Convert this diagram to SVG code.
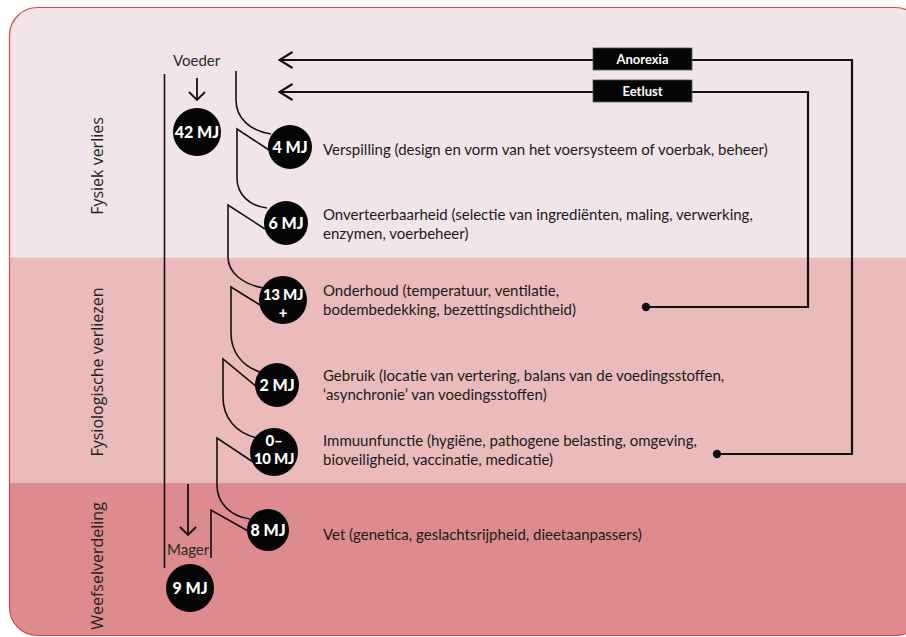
<svg xmlns="http://www.w3.org/2000/svg" width="906" height="637" viewBox="0 0 906 637">
<defs>
<clipPath id="panel"><rect x="9.5" y="7.5" width="914" height="628" rx="28"/></clipPath>
<marker id="chev" viewBox="0 0 16 18" refX="14.5" refY="9" markerWidth="16" markerHeight="18" markerUnits="userSpaceOnUse" orient="auto">
<path d="M1,1 L14,9 L1,17" fill="none" stroke="#111" stroke-width="2.2"/>
</marker>
</defs>
<style>
.side{font-family:"Open Sans","DejaVu Sans",sans-serif;font-size:16px;fill:#222;text-anchor:middle}
.body{font-family:Lato,"Liberation Sans",sans-serif;font-size:15px;fill:#1a1a1a}
.mj{font-family:Lato,"Liberation Sans",sans-serif;font-size:16px;font-weight:900;fill:#fff;text-anchor:middle}
.mjs{font-family:Lato,"Liberation Sans",sans-serif;font-size:15px;font-weight:900;fill:#fff;text-anchor:middle;letter-spacing:-0.3px}
.tag{font-family:Lato,"Liberation Sans",sans-serif;font-size:13px;font-weight:700;fill:#fff;text-anchor:middle}
.lbl{font-family:Lato,"Liberation Sans",sans-serif;font-size:15px;fill:#2a2a2a}
.ln{fill:none;stroke:#111;stroke-width:1.6}
.fb{fill:none;stroke:#111;stroke-width:2.2}
.arr{fill:none;stroke:#111;stroke-width:1.8}
</style>
<g id="background">
<g clip-path="url(#panel)">
<rect x="0" y="0" width="930" height="257" fill="#f2e5ea"/>
<rect x="0" y="257" width="930" height="226" fill="#ebbbbc"/>
<rect x="0" y="483" width="930" height="160" fill="#de8b8f"/>
</g>
<rect x="9.5" y="7.5" width="914" height="628" rx="28" fill="none" stroke="#d8424a" stroke-width="1.2"/>
<line x1="9.5" y1="257" x2="906" y2="257" stroke="#f7eef1" stroke-width="1"/>
</g>
<g id="side-labels">
<text class="side" transform="translate(103,166) rotate(-90)">Fysiek verlies</text>
<text class="side" transform="translate(103,372) rotate(-90)">Fysiologische verliezen</text>
<text class="side" transform="translate(103,566) rotate(-90)">Weefselverdeling</text>
</g>
<g id="connectors">
<line class="ln" x1="164.5" y1="74" x2="164.5" y2="568"/>
<path class="ln" d="M236,71 V100 C236,118 250,131 271,134"/>
<path class="ln" d="M269,150 L237,129 V178 C237,195 250,206 267,208"/>
<path class="ln" d="M265,229 L228,205 V257 C228,273 243,284 263,288"/>
<path class="ln" d="M260,305 L231,287 V333 C231,352 242,366 260,372"/>
<path class="ln" d="M257,387 L223,359 V397 C223,418 236,433 257,438"/>
<path class="ln" d="M253,462 L217,438 V485 C217,503 230,516 250,519"/>
<path class="ln" d="M248,531 L211,510 V558"/>
<g id="arrow-voeder"><line class="arr" x1="197" y1="78" x2="197" y2="100"/><path class="arr" d="M189,92 L197,100 L205,92"/></g>
<g id="arrow-mager"><line class="arr" x1="188" y1="484" x2="188" y2="535"/><path class="arr" d="M180,527 L188,535 L196,527"/></g>
<path class="fb" d="M593,60 H279" marker-end="url(#chev)"/>
<path class="fb" d="M593,92 H279" marker-end="url(#chev)"/>
<path class="fb" d="M692,60 H852 V454 H717"/>
<path class="fb" d="M692,92 H808 V307 H646"/>
<circle cx="717" cy="454" r="4.2" fill="#111"/>
<circle cx="646" cy="307" r="4.2" fill="#111"/>
</g>
<g id="voeder"><text class="lbl" x="173" y="66">Voeder</text></g>
<g id="mager"><text class="lbl" x="167" y="555">Mager</text></g>
<g id="anorexia"><rect x="593" y="48" width="99" height="22" fill="#050505" stroke="#555" stroke-width="0.8"/><text class="tag" x="642.5" y="64">Anorexia</text></g>
<g id="eetlust"><rect x="593" y="80" width="99" height="22" fill="#050505" stroke="#555" stroke-width="0.8"/><text class="tag" x="642.5" y="96">Eetlust</text></g>
<g id="n42"><circle cx="197" cy="132" r="24" fill="#050505"/><text class="mj" x="197" y="138">42 MJ</text></g>
<g id="n4"><circle cx="290" cy="147" r="22" fill="#050505"/><text class="mj" x="290" y="153">4 MJ</text><text class="body" x="323" y="155">Verspilling (design en vorm van het voersysteem of voerbak, beheer)</text></g>
<g id="n6"><circle cx="286" cy="223" r="22" fill="#050505"/><text class="mj" x="286" y="229">6 MJ</text><text class="body" x="323" y="220">Onverteerbaarheid (selectie van ingrediënten, maling, verwerking,</text><text class="body" x="323" y="239">enzymen, voerbeheer)</text></g>
<g id="n13"><circle cx="283" cy="300" r="24" fill="#050505"/><text class="mjs" x="283" y="300">13 MJ</text><text class="mjs" x="283" y="318">+</text><text class="body" x="323" y="296">Onderhoud (temperatuur, ventilatie,</text><text class="body" x="323" y="315">bodembedekking, bezettingsdichtheid)</text></g>
<g id="n2"><circle cx="277" cy="385" r="22" fill="#050505"/><text class="mj" x="277" y="391">2 MJ</text><text class="body" x="323" y="381">Gebruik (locatie van vertering, balans van de voedingsstoffen,</text><text class="body" x="323" y="400">‘asynchronie’ van voedingsstoffen)</text></g>
<g id="n010"><circle cx="274" cy="452" r="24" fill="#050505"/><text class="mjs" x="274" y="446">0–</text><text class="mjs" x="274" y="464">10 MJ</text><text class="body" x="323" y="446">Immuunfunctie (hygiëne, pathogene belasting, omgeving,</text><text class="body" x="323" y="465">bioveiligheid, vaccinatie, medicatie)</text></g>
<g id="n8"><circle cx="268" cy="530" r="21" fill="#050505"/><text class="mj" x="268" y="536">8 MJ</text><text class="body" x="323" y="540">Vet (genetica, geslachtsrijpheid, dieetaanpassers)</text></g>
<g id="n9"><circle cx="190" cy="588" r="24" fill="#050505"/><text class="mj" x="190" y="594">9 MJ</text></g>
</svg>
